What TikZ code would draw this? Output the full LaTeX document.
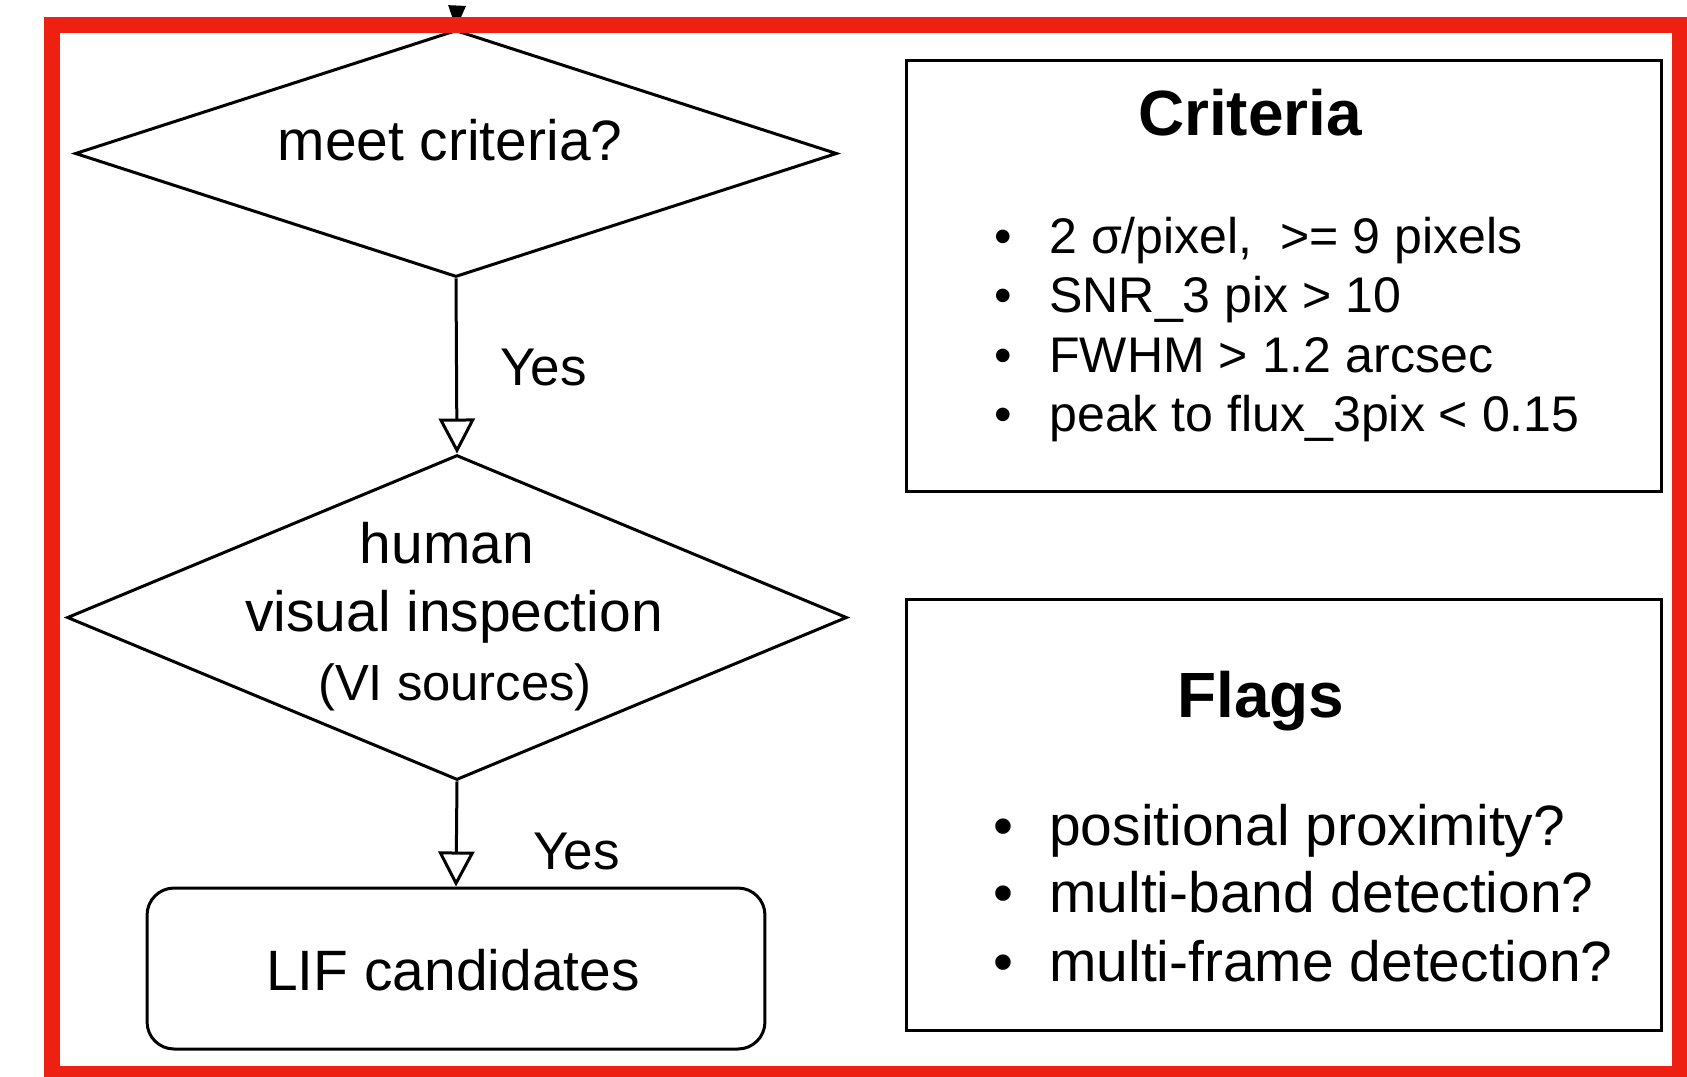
\documentclass[tikz,border=0pt]{standalone}
\usepackage{fontspec}
\setmainfont{Liberation Sans}
\usetikzlibrary{arrows.meta,shapes.geometric}
\definecolor{framered}{RGB}{237,32,18}

% bullet with a fixed hanging indent
\newcommand{\bul}[1]{\makebox[#1][l]{\textbullet}}

\begin{document}
\begin{tikzpicture}[x=0.02cm,y=-0.02cm,
every node/.style={inner sep=0pt},
decision/.style={diamond,draw,line width=0.06cm},
infobox/.style={rectangle,draw,line width=0.06cm,minimum width=15.12cm,minimum height=8.64cm},
txt/.style={font=\fontsize{32.4}{38}\selectfont},
smalltxt/.style={font=\fontsize{28.5}{34}\selectfont},
yestxt/.style={font=\fontsize{30.2}{36}\selectfont},
titletxt/.style={font=\fontsize{36.4}{44}\selectfont\bfseries},
flow/.style={line width=0.06cm,-{Triangle[open,length=0.7cm,width=0.72cm]}}]
\useasboundingbox (0,0) rectangle (1687,1076);

% flow chart on the left
\coordinate (entry) at (457,7);
\node[decision,minimum width=15.24cm,minimum height=4.94cm] (meet) at (456,153.5) {};
\node[txt,anchor=base] (meetText) at (450,160) {meet criteria?};
\node[decision,minimum width=15.6cm,minimum height=6.5cm] (insp) at (457,617.5) {};
\node[txt,anchor=base] (insp1) at (447,563) {human};
\node[txt,anchor=base] (insp2) at (454,631) {visual inspection};
\node[font=\fontsize{28.9}{34}\selectfont,anchor=base] (insp3) at (455,700) {(VI sources)};
\node[rectangle,draw,line width=0.06cm,rounded corners=0.54cm,
  minimum width=12.36cm,minimum height=3.22cm] (lif) at (456,968.5) {};
\node[txt,anchor=base] (lifText) at (453,990) {LIF candidates};

\draw[line width=0.06cm,-{Triangle[length=0.46cm,width=0.34cm]}] (entry) -- (meet.north);
\draw[flow] (meet.south) -- (insp.north);
\draw[flow] (insp.south) -- (lif.north);
\node[yestxt,anchor=base west] (yes1) at (500,385) {Yes};
\node[yestxt,anchor=base west] (yes2) at (533,869) {Yes};

% criteria and flags
\node[infobox] (crit) at (1284,276) {};
\node[titletxt,anchor=base] (critTitle) at (1250,135) {Criteria};
\node[smalltxt,anchor=base west] (crit1) at (994,253) {\bul{1.1cm}2 σ/pixel,\ \ >= 9 pixels};
\node[smalltxt,anchor=base west] (crit2) at (994,312) {\bul{1.1cm}SNR\_3 pix > 10};
\node[smalltxt,anchor=base west] (crit3) at (994,372) {\bul{1.1cm}FWHM > 1.2 arcsec};
\node[smalltxt,anchor=base west] (crit4) at (994,431) {\bul{1.1cm}peak to flux\_3pix < 0.15};

\node[infobox] (flags) at (1284,815) {};
\node[titletxt,anchor=base] (flagTitle) at (1261,717) {Flags};
\node[txt,anchor=base west] (flag1) at (993,845) {\bul{1.12cm}positional proximity?};
\node[txt,anchor=base west] (flag2) at (993,912) {\bul{1.12cm}multi-band detection?};
\node[txt,anchor=base west] (flag3) at (993,981) {\bul{1.12cm}multi-frame detection?};

% red frame on top
\draw[framered,line width=0.32cm] (52,25) rectangle (1680,1074);
\end{tikzpicture}
\end{document}
